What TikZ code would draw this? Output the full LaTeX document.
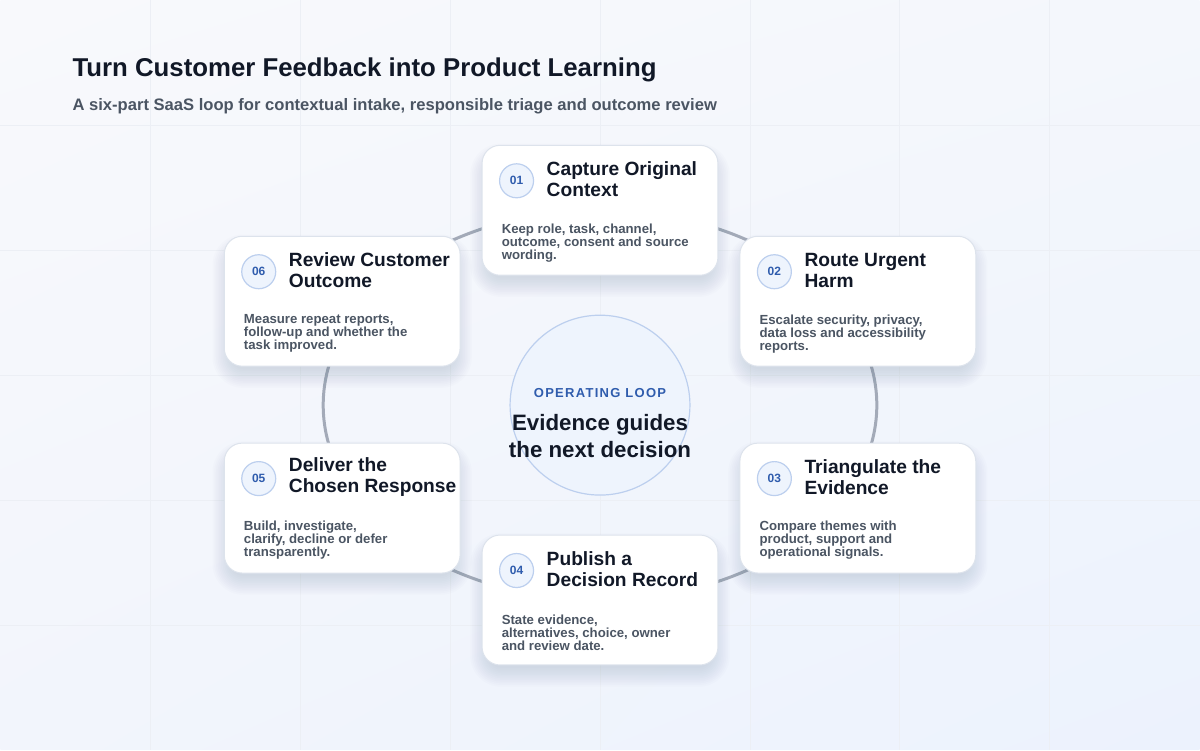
\documentclass[tikz,border=0pt]{standalone}
\usepackage{fontspec}
\setmainfont{Liberation Sans}
\usetikzlibrary{shadings}

\definecolor{ink}{HTML}{111827}
\definecolor{slate}{HTML}{4B5563}
\definecolor{accent}{HTML}{2F5CAD}
\definecolor{cardline}{HTML}{DDE3EC}
\definecolor{badgefill}{HTML}{EEF4FD}
\definecolor{badgeline}{HTML}{BCCFEE}
\definecolor{ringgray}{HTML}{A3AAB8}
\definecolor{gridline}{HTML}{ECEFF5}
\definecolor{shadowcol}{HTML}{5A6A8C}
\definecolor{bgul}{HTML}{F8F9FC}
\definecolor{bgur}{HTML}{F4F7FC}
\definecolor{bgll}{HTML}{F2F5FC}
\definecolor{bglr}{HTML}{ECF2FD}

\begin{document}
\begin{tikzpicture}[x=1pt,y=-1pt]
\tikzstyle{card}=[rectangle,rounded corners=18pt,fill=white,draw=cardline,line width=1pt,minimum width=236pt,minimum height=130pt]
\tikzstyle{glow}=[rectangle,fill=shadowcol,opacity=0.016,draw=none,inner sep=0pt]
\tikzstyle{badge}=[circle,fill=badgefill,draw=badgeline,line width=1.2pt,minimum size=34pt,inner sep=0pt,text=accent,font=\fontsize{12}{14}\selectfont\bfseries]
\tikzstyle{steptitle}=[anchor=west,align=left,inner sep=0pt,text=ink,font=\fontsize{19.2}{21}\selectfont\bfseries]
\tikzstyle{stepbody}=[anchor=west,align=left,inner sep=0pt,text=slate,font=\fontsize{13.2}{13}\selectfont\bfseries]
\tikzstyle{hub}=[circle,fill=badgefill,draw=badgeline,line width=1.2pt,minimum size=180pt,inner sep=0pt]
\tikzstyle{ring}=[draw=ringgray,line width=3pt]

% background and grid
\shade[upper left=bgul,upper right=bgur,lower left=bgll,lower right=bglr] (0,0) rectangle (1200,750);
\foreach \gx in {150,300,...,1050} \draw[gridline,line width=0.8pt] (\gx,0) -- (\gx,750);
\foreach \gy in {125,250,...,625} \draw[gridline,line width=0.8pt] (0,\gy) -- (1200,\gy);
\useasboundingbox (0,0) rectangle (1200,750);

% header
\node[anchor=west,inner sep=0pt,text=ink,font=\fontsize{25.8}{28}\selectfont\bfseries] (title) at (72,70) {Turn Customer Feedback into Product Learning};
\node[anchor=west,inner sep=0pt,text=slate,font=\fontsize{16.6}{18}\selectfont\bfseries] (subtitle) at (72,105.5) {A six-part SaaS loop for contextual intake, responsible triage and outcome review};

% loop
\node[hub] (hub) at (600,405) {};
\draw[ring] (hub.center) ellipse [x radius=277, y radius=195];
\node[text=accent,font=\fontsize{13}{14}\selectfont\bfseries\addfontfeatures{LetterSpace=10}] (hublabel) at (600,393) {OPERATING LOOP};
\node[align=center,text=ink,font=\fontsize{22.3}{27}\selectfont\bfseries] (hubtext) at (600,435.5) {Evidence guides\\the next decision};

% cards
\foreach \id/\cx/\cy/\head/\desc in {
  01/600/210/{Capture Original\\Context}/{Keep role, task, channel,\\outcome, consent and source\\wording.},
  02/858/301/{Route Urgent\\Harm}/{Escalate security, privacy,\\data loss and accessibility\\reports.},
  03/858/508/{Triangulate the\\Evidence}/{Compare themes with\\product, support and\\operational signals.},
  04/600/600/{Publish a\\Decision Record}/{State evidence,\\alternatives, choice, owner\\and review date.},
  05/342/508/{Deliver the\\Chosen Response}/{Build, investigate,\\clarify, decline or defer\\transparently.},
  06/342/301/{Review Customer\\Outcome}/{Measure repeat reports,\\follow-up and whether the\\task improved.}} {
  \foreach \k in {0,...,11}
    \node[glow,minimum width=222pt+3.4pt*\k,minimum height=116pt+3.4pt*\k,rounded corners=12pt+1.7pt*\k] at (\cx,\cy+10) {};
  \node[card] (c\id) at (\cx,\cy) {};
  \node[badge] (b\id) at ([xshift=35pt,yshift=-36pt]c\id.north west) {\id};
  \node[steptitle] (t\id) at ([xshift=65pt,yshift=-34.5pt]c\id.north west) {\head};
  \node[stepbody] (d\id) at ([xshift=20pt,yshift=-98pt]c\id.north west) {\desc};
}
\end{tikzpicture}
\end{document}
